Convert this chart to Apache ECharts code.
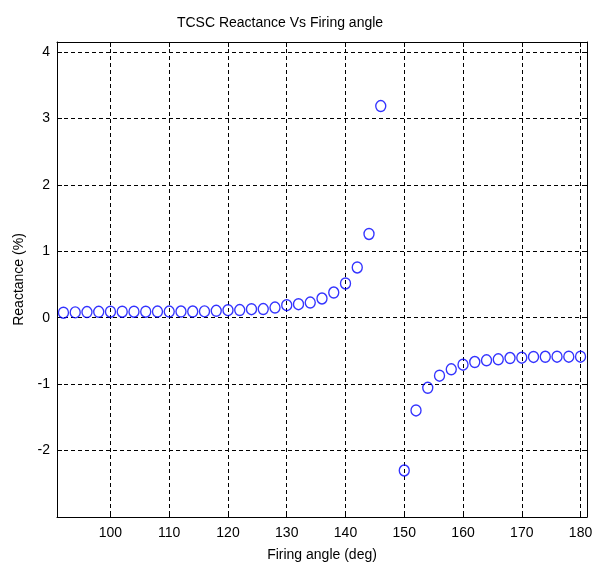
<!DOCTYPE html>
<html>
<head>
<meta charset="utf-8">
<script src="https://cdn.jsdelivr.net/npm/echarts@6/dist/echarts.min.js"></script>
<style>
html,body{margin:0;padding:0;background:#fff;}
#chart{width:601px;height:564px;}
</style>
</head>
<body>
<div id="chart"></div>
<script>
var firingAngle = [92,94,96,98,100,102,104,106,108,110,112,114,116,118,120,122,124,126,128,130,132,134,136,138,140,142,144,146,
                   150,152,154,156,158,160,162,164,166,168,170,172,174,176,178,180];
var reactance = [0.075,0.08,0.085,0.088,0.09,0.09,0.09,0.09,0.092,0.092,0.093,0.093,0.095,0.103,0.113,0.115,0.128,0.13,0.153,0.188,0.203,0.228,0.289,0.379,0.515,0.756,1.26,3.185,
                 -2.30,-1.396,-1.055,-0.873,-0.777,-0.707,-0.667,-0.642,-0.626,-0.607,-0.602,-0.59,-0.588,-0.587,-0.587,-0.587];
var xTicks = [100,110,120,130,140,150,160,170,180];
var yTicks = [-2,-1,0,1,2,3,4];

var points = firingAngle.map(function(a,i){return [a, reactance[i]];});
var font = '"Liberation Sans", Arial, sans-serif';
var dash = {color:'#000', width:1, type:[4,3]};

var chart = echarts.init(document.getElementById('chart'), null, {renderer:'canvas'});
chart.setOption({
  backgroundColor:'#fff',
  animation:false,
  title:{
    text:'TCSC Reactance Vs Firing angle',
    left:275, top:11, textAlign:'center',
    textStyle:{fontFamily:font, fontSize:14, fontWeight:'normal', color:'#000'}
  },
  grid:{left:57, right:14, top:42, bottom:47, containLabel:false, outerBoundsMode:'none'},
  xAxis:[{
    type:'value', min:90.9, max:181.1, position:'bottom',
    name:'Firing angle (deg)', nameLocation:'middle', nameGap:31,
    nameTextStyle:{fontFamily:font, fontSize:14, color:'#000'},
    axisLine:{show:true, onZero:false, lineStyle:{color:'#000', width:1}},
    axisTick:{show:true, inside:true, length:5, customValues:xTicks, lineStyle:{color:'#000'}},
    axisLabel:{show:true, customValues:xTicks, margin:9, fontFamily:font, fontSize:14, color:'#000'},
    splitLine:{show:true, lineStyle:dash}
  },{
    type:'value', min:90.9, max:181.1, position:'top',
    axisLine:{show:true, onZero:false, lineStyle:{color:'#000', width:1}},
    axisTick:{show:true, inside:true, length:5, customValues:xTicks, lineStyle:{color:'#000'}},
    axisLabel:{show:false, customValues:xTicks},
    splitLine:{show:false}
  }],
  yAxis:[{
    type:'value', min:-3, max:4.15, interval:1, position:'left',
    name:'Reactance (%)', nameLocation:'middle', nameGap:31, nameRotate:90,
    nameTextStyle:{fontFamily:font, fontSize:14, color:'#000'},
    axisLine:{show:true, onZero:false, lineStyle:{color:'#000', width:1}},
    axisTick:{show:true, inside:true, length:5, customValues:yTicks, lineStyle:{color:'#000'}},
    axisLabel:{show:true, customValues:yTicks, margin:7, fontFamily:font, fontSize:14, color:'#000'},
    splitLine:{show:true, lineStyle:dash}
  },{
    type:'value', min:-3, max:4.15, interval:1, position:'right',
    axisLine:{show:true, onZero:false, lineStyle:{color:'#000', width:1}},
    axisTick:{show:true, inside:true, length:5, customValues:yTicks, lineStyle:{color:'#000'}},
    axisLabel:{show:false},
    splitLine:{show:false}
  }],
  series:[{
    type:'scatter',
    xAxisIndex:0, yAxisIndex:0,
    data:points,
    symbol:'circle',
    symbolSize:[10,11],
    itemStyle:{color:'rgba(0,0,0,0)', borderColor:'#0000ff', borderWidth:1.4},
    emphasis:{disabled:true}
  }]
});
</script>
</body>
</html>
